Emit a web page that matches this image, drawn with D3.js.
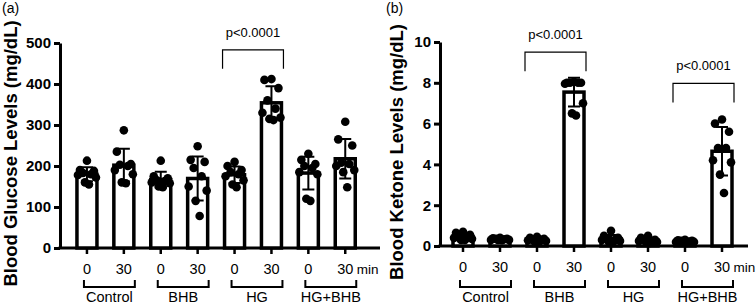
<!DOCTYPE html>
<html>
<head>
<meta charset="utf-8">
<script src="https://cdn.jsdelivr.net/npm/d3@7/dist/d3.min.js"></script>
<style>
  body { margin: 0; background: #fff; }
  svg { display: block; font-family: Arial, "Liberation Sans", sans-serif; }
  .yaxis text { font-weight: bold; font-size: 15px; }
  .xaxis text { font-size: 14.5px; }
</style>
</head>
<body>
<svg width="756" height="305"></svg>
<script>
// tick labels and categories
const times = ['0', '30', '0', '30', '0', '30', '0', '30'];
const groups = ['Control', 'BHB', 'HG', 'HG+BHB'];
const glucoseTicks = [0, 100, 200, 300, 400, 500];
const ketoneTicks = [0, 2, 4, 6, 8, 10];

// individual animals, per bar (Control 0, Control 30, BHB 0, BHB 30, HG 0, HG 30, HG+BHB 0, HG+BHB 30)
const glucose = [
  [213, 190, 188, 183, 180, 178, 172, 160, 155],
  [287, 235, 205, 203, 200, 190, 180, 160, 158],
  [213, 175, 170, 165, 163, 160, 158, 150, 148],
  [248, 215, 210, 195, 175, 150, 140, 115, 78],
  [210, 200, 190, 185, 180, 175, 165, 155, 148],
  [412, 410, 390, 360, 340, 330, 318, 315, 312],
  [230, 215, 205, 200, 195, 185, 180, 120, 115],
  [308, 265, 250, 208, 205, 200, 190, 185, 148]
];
const ketone = [
  [0.7, 0.65, 0.55, 0.5, 0.45, 0.4, 0.35, 0.3, 0.3],
  [0.4, 0.38, 0.35, 0.35, 0.33, 0.3, 0.3, 0.3, 0.28],
  [0.45, 0.4, 0.35, 0.3, 0.3, 0.28, 0.25, 0.2, 0.2],
  [8.05, 8.0, 8.0, 8.0, 8.0, 7.95, 7.0, 6.5, 6.4],
  [0.75, 0.5, 0.4, 0.35, 0.3, 0.3, 0.25, 0.2, 0.2],
  [0.5, 0.4, 0.3, 0.3, 0.25, 0.25, 0.2, 0.2, 0.15],
  [0.3, 0.28, 0.25, 0.25, 0.22, 0.2, 0.2, 0.18, 0.15],
  [6.2, 6.0, 5.6, 4.8, 4.8, 4.2, 4.1, 3.5, 2.6]
];
// significance brackets: bar indices and bracket level in data units
const glucoseComps = [{ a: 4, b: 5, level: 437, label: 'p<0.0001' }];
const ketoneComps = [
  { a: 2, b: 3, level: 8.57, label: 'p<0.0001' },
  { a: 6, b: 7, level: 7.04, label: 'p<0.0001' }
];

const svg = d3.select('svg');
const jitter = [0, -7, 7, -4, 4, -9, 9, -2, 2]; // horizontal spread of dots inside a bar

const drawPanel = opt => {
  const g = svg.append('g');
  const idx = d3.range(opt.data.length);

  const y = d3.scaleLinear()
    .domain([0, opt.ticks[opt.ticks.length - 1]])
    .range([opt.bottom, opt.top]);

  const x = d3.scaleBand()
    .domain(idx)
    .range(opt.xRange)
    .padding(0);
  const cx = i => x(i) + x.bandwidth() / 2;

  // y axis
  const ya = g.append('g')
    .attr('class', 'yaxis')
    .attr('transform', `translate(${opt.axisX},0)`)
    .call(d3.axisLeft(y).tickValues(opt.ticks).tickSize(6).tickSizeOuter(0).tickPadding(3));
  ya.selectAll('.domain, .tick line').attr('stroke-width', 3).attr('stroke', '#000');

  // x axis
  const xa = g.append('g')
    .attr('class', 'xaxis')
    .attr('transform', `translate(0,${opt.bottom})`)
    .call(d3.axisBottom(x).tickFormat(i => times[i]).tickSize(6).tickSizeOuter(0).tickPadding(10));
  xa.select('.domain').remove();
  xa.selectAll('.tick line').attr('stroke-width', 2.5);
  xa.append('line')
    .attr('x1', opt.axisX - 1.5).attr('x2', opt.axisEnd)
    .attr('stroke', '#000').attr('stroke-width', 3);
  xa.append('text')
    .attr('x', cx(7) + 11.5).attr('y', 16).attr('dy', '0.71em')
    .attr('fill', '#000').attr('text-anchor', 'start')
    .style('font-size', '13.5px')
    .text('min');

  // group brackets under the time labels
  groups.forEach((name, k) => {
    const x1 = cx(2 * k) - 3, x2 = cx(2 * k + 1) + 11;
    g.append('path')
      .attr('d', `M${x1},280V287H${x2}V280`)
      .attr('fill', 'none').attr('stroke', '#000').attr('stroke-width', 2);
    g.append('text')
      .attr('x', (x1 + x2) / 2).attr('y', 302)
      .attr('text-anchor', 'middle').attr('font-size', 14.5)
      .text(name);
  });

  const stats = opt.data.map(v => ({ mean: d3.mean(v), sd: d3.deviation(v) }));
  const bw = 20;

  // bars
  g.selectAll('rect.bar').data(stats).enter().append('rect')
    .attr('class', 'bar')
    .attr('x', (d, i) => cx(i) - bw / 2)
    .attr('y', d => y(d.mean))
    .attr('width', bw)
    .attr('height', d => y(0) - y(d.mean))
    .attr('fill', '#fff').attr('stroke', '#000').attr('stroke-width', 3.5);

  // dots
  opt.data.forEach((vals, i) => {
    g.selectAll(null).data(vals).enter().append('circle')
      .attr('cx', (d, j) => cx(i) + jitter[j % jitter.length])
      .attr('cy', d => y(d))
      .attr('r', 4.3)
      .attr('fill', '#000');
  });

  // mean +/- SD
  const cap = 6;
  stats.forEach((d, i) => {
    const lo = y(Math.max(0, d.mean - d.sd)), hi = y(d.mean + d.sd);
    g.append('path')
      .attr('d', `M${cx(i)},${lo}V${hi}M${cx(i) - cap},${hi}H${cx(i) + cap}M${cx(i) - cap},${lo}H${cx(i) + cap}`)
      .attr('fill', 'none').attr('stroke', '#000').attr('stroke-width', 2);
  });

  // significance brackets
  opt.comps.forEach(c => {
    const x1 = cx(c.a) - 12, x2 = cx(c.b) + 12;
    const yb = y(c.level), yt = yb - 19;
    g.append('path')
      .attr('d', `M${x1},${yb}V${yt}H${x2}V${yb}`)
      .attr('fill', 'none').attr('stroke', '#000').attr('stroke-width', 1.2);
    g.append('text')
      .attr('x', (x1 + x2) / 2).attr('y', yt - 13)
      .attr('text-anchor', 'middle').attr('font-size', 13)
      .text(c.label);
  });

  // axis title and panel label
  g.append('text')
    .attr('transform', `translate(${opt.titleX},${(opt.top + opt.bottom) / 2 + 8}) rotate(-90)`)
    .attr('text-anchor', 'middle').attr('font-weight', 'bold').attr('font-size', 18.5)
    .text(opt.title);
  g.append('text')
    .attr('x', opt.panelX).attr('y', 13)
    .attr('font-size', 14)
    .text(opt.panel);
};

drawPanel({
  data: glucose, ticks: glucoseTicks, comps: glucoseComps,
  axisX: 60, axisEnd: 380, top: 43, bottom: 248, xRange: [68.5, 363.7],
  title: 'Blood Glucose Levels (mg/dL)', titleX: 17, panel: '(a)', panelX: 2
});
drawPanel({
  data: ketone, ticks: ketoneTicks, comps: ketoneComps,
  axisX: 440, axisEnd: 748, top: 42, bottom: 246, xRange: [444.5, 740.5],
  title: 'Blood Ketone Levels (mg/dL)', titleX: 403, panel: '(b)', panelX: 386
});
</script>
</body>
</html>
